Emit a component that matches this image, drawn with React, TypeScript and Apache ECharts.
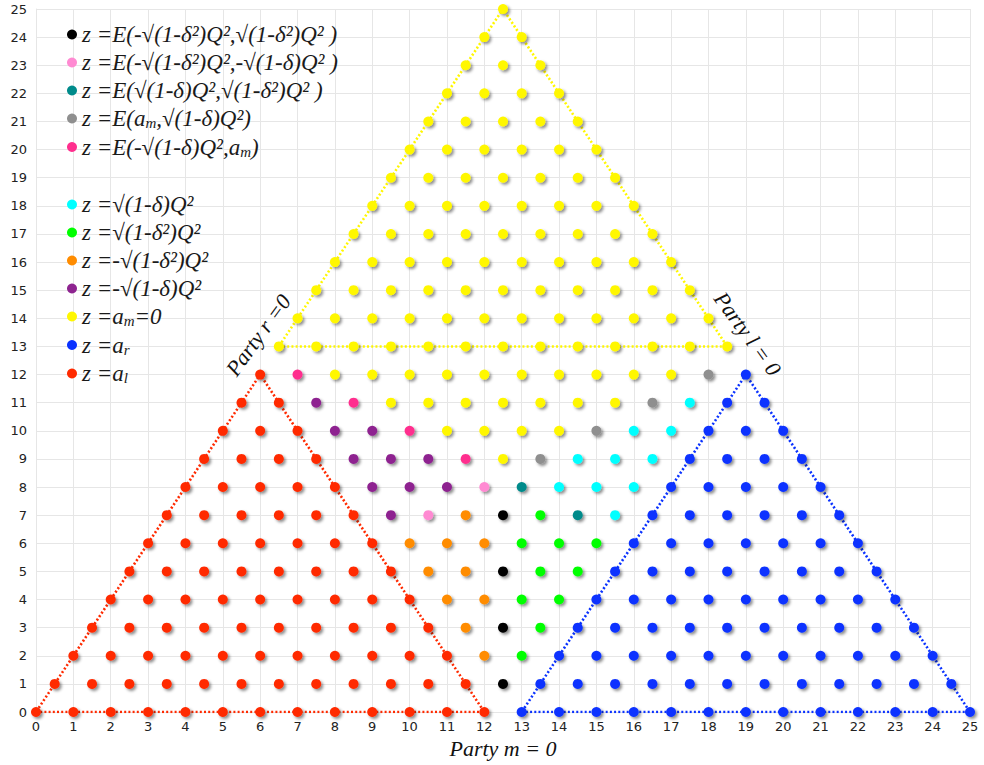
import React, { useEffect, useRef } from 'react';
import * as echarts from 'echarts';

// Lattice of outcomes: row index = y (party m), character j in row => x = y/2 + j.
// Codes: R red (a_l), B blue (a_r), Y yellow (a_m=0), K black, P light pink, T teal,
// G gray, M deep pink, C cyan, L green, O orange, U purple.
const LATTICE_ROWS: string[] = [
  'RRRRRRRRRRRRRBBBBBBBBBBBBB',
  'RRRRRRRRRRRRKBBBBBBBBBBBB',
  'RRRRRRRRRRROLBBBBBBBBBBB',
  'RRRRRRRRRROKLBBBBBBBBBB',
  'RRRRRRRRROOLLBBBBBBBBB',
  'RRRRRRRROOKLLBBBBBBBB',
  'RRRRRRROOOLLLBBBBBBB',
  'RRRRRRUPOKLTCBBBBBB',
  'RRRRRUUUPTCCCBBBBB',
  'RRRRUUUMYGCCCBBBB',
  'RRRUUMYYYYGCCBBB',
  'RRUMYYYYYYYGCBB',
  'RMYYYYYYYYYYGB',
  'YYYYYYYYYYYYY',
  'YYYYYYYYYYYY',
  'YYYYYYYYYYY',
  'YYYYYYYYYY',
  'YYYYYYYYY',
  'YYYYYYYY',
  'YYYYYYY',
  'YYYYYY',
  'YYYYY',
  'YYYY',
  'YYY',
  'YY',
  'Y',
];

const SERIES_KEYS: string[] = ['K', 'P', 'T', 'G', 'M', 'C', 'L', 'O', 'U', 'Y', 'B', 'R'];
const LEGEND_TOP_KEYS: string[] = ['K', 'P', 'T', 'G', 'M'];
const LEGEND_BOTTOM_KEYS: string[] = ['C', 'L', 'O', 'U', 'Y', 'B', 'R'];

const COLORS: Record<string, string> = {
  K: '#000000',
  P: '#ff8ad2',
  T: '#008b8b',
  G: '#8f8f8f',
  M: '#ff2f8e',
  C: '#00ffff',
  L: '#00ff00',
  O: '#ff8c00',
  U: '#8e2490',
  Y: '#fff700',
  B: '#0a32ff',
  R: '#ff2a00',
};

const LEGEND_LABELS: Record<string, string> = {
  K: '{t|z =E(-√(1-δ²)Q²,√(1-δ²)Q² )}',
  P: '{t|z =E(-√(1-δ²)Q²,-√(1-δ)Q² )}',
  T: '{t|z =E(√(1-δ)Q²,√(1-δ²)Q² )}',
  G: '{t|z =E(a}{s|m}{t|,√(1-δ)Q²)}',
  M: '{t|z =E(-√(1-δ)Q²,a}{s|m}{t|)}',
  C: '{t|z =√(1-δ)Q²}',
  L: '{t|z =√(1-δ²)Q²}',
  O: '{t|z =-√(1-δ²)Q²}',
  U: '{t|z =-√(1-δ)Q²}',
  Y: '{t|z =a}{s|m}{t|=0}',
  B: '{t|z =a}{s|r}',
  R: '{t|z =a}{s|l}',
};

const RED_EDGE: number[][] = [[0, 0], [12, 0], [6, 12], [0, 0]];
const BLUE_EDGE: number[][] = [[13, 0], [25, 0], [19, 12], [13, 0]];
const YELLOW_EDGE: number[][] = [[6.5, 13], [18.5, 13], [12.5, 25], [6.5, 13]];

const AXIS_MIN = 0;
const AXIS_MAX = 25;
const AXIS_STEP = 1;

const LABEL_R_TEXT = 'Party r =0';
const LABEL_L_TEXT = 'Party l = 0';
const LABEL_R_POS = [5.95, 13.4];
const LABEL_L_POS = [19.05, 13.45];
const X_AXIS_NAME = 'Party m = 0';

const SERIF = '"Liberation Serif", "DejaVu Serif", serif';

function buildSeriesData(): Record<string, number[][]> {
  const out: Record<string, number[][]> = {};
  SERIES_KEYS.forEach((k) => (out[k] = []));
  LATTICE_ROWS.forEach((row, y) => {
    for (let j = 0; j < row.length; j++) {
      out[row[j]].push([y / 2 + j, y]);
    }
  });
  return out;
}

export default function App() {
  const ref = useRef<HTMLDivElement>(null);

  useEffect(() => {
    if (!ref.current) return;
    const chart = echarts.init(ref.current, undefined, { renderer: 'svg' });
    const data = buildSeriesData();

    const edgeSeries = [
      { data: RED_EDGE, color: COLORS.R },
      { data: BLUE_EDGE, color: COLORS.B },
      { data: YELLOW_EDGE, color: COLORS.Y },
    ].map((e, i) => ({
      type: 'line',
      name: 'edge' + i,
      data: e.data,
      symbol: 'none',
      silent: true,
      z: 1,
      lineStyle: {
        color: e.color,
        width: 2.6,
        type: [2, 2.2],
        cap: 'butt',
      },
    }));

    const scatterSeries = SERIES_KEYS.map((k) => ({
      type: 'scatter',
      name: k,
      data: data[k],
      symbol: 'circle',
      symbolSize: 10,
      z: 3,
      itemStyle: {
        color: COLORS[k],
        opacity: 1,
        shadowColor: 'rgba(0,0,0,0.45)',
        shadowBlur: 3,
        shadowOffsetX: 2,
        shadowOffsetY: 2,
      },
    }));

    const legendText = {
      color: '#1a1a1a',
      fontFamily: SERIF,
      fontStyle: 'italic',
      fontSize: 23,
      rich: {
        t: {
          color: '#1a1a1a',
          fontFamily: SERIF,
          fontStyle: 'italic',
          fontSize: 23,
          lineHeight: 24,
        },
        s: {
          color: '#1a1a1a',
          fontFamily: SERIF,
          fontStyle: 'italic',
          fontSize: 15,
          lineHeight: 14,
          verticalAlign: 'bottom',
        },
      },
    };

    const legendBase = {
      orient: 'vertical',
      left: 67,
      icon: 'circle',
      itemWidth: 10,
      itemHeight: 10,
      itemGap: 5,
      padding: 0,
      selectedMode: false,
      formatter: (name: string) => LEGEND_LABELS[name] || name,
      textStyle: legendText,
    };

    const axisCommon = {
      type: 'value',
      min: AXIS_MIN,
      max: AXIS_MAX,
      interval: AXIS_STEP,
      axisLine: { show: true, lineStyle: { color: '#e6e6e6', width: 1 } },
      axisTick: { show: false },
      splitLine: { show: true, lineStyle: { color: '#e6e6e6', width: 1 } },
      axisLabel: {
        color: '#222',
        fontSize: 13,
        fontFamily: '"DejaVu Sans", sans-serif',
      },
    };

    chart.setOption({
      animation: false,
      backgroundColor: '#ffffff',
      grid: { left: 36, right: 14, top: 9, bottom: 53, containLabel: false },
      xAxis: {
        ...axisCommon,
        axisLabel: { ...axisCommon.axisLabel, margin: 8 },
        name: X_AXIS_NAME,
        nameLocation: 'middle',
        nameGap: 24,
        nameTextStyle: {
          fontFamily: SERIF,
          fontStyle: 'italic',
          fontSize: 22,
          color: '#111',
          verticalAlign: 'top',
        },
      },
      yAxis: {
        ...axisCommon,
        axisLabel: { ...axisCommon.axisLabel, margin: 9 },
      },
      legend: [
        { ...legendBase, top: 23, data: LEGEND_TOP_KEYS },
        { ...legendBase, top: 193, data: LEGEND_BOTTOM_KEYS },
      ],
      series: [...edgeSeries, ...scatterSeries],
    });

    const pR = chart.convertToPixel({ gridIndex: 0 }, LABEL_R_POS) as number[];
    const pL = chart.convertToPixel({ gridIndex: 0 }, LABEL_L_POS) as number[];
    const labelStyle = {
      fontFamily: SERIF,
      fontStyle: 'italic',
      fontSize: 22,
      fill: '#111',
      align: 'center',
      verticalAlign: 'middle',
    };
    chart.setOption({
      graphic: [
        {
          type: 'text',
          x: pR[0],
          y: pR[1],
          rotation: (54 * Math.PI) / 180,
          z: 10,
          style: { ...labelStyle, text: LABEL_R_TEXT },
        },
        {
          type: 'text',
          x: pL[0],
          y: pL[1],
          rotation: (-54 * Math.PI) / 180,
          z: 10,
          style: { ...labelStyle, text: LABEL_L_TEXT },
        },
      ],
    });

    return () => chart.dispose();
  }, []);

  return (
    <div
      ref={ref}
      style={{ position: 'absolute', left: 0, top: 0, width: 984, height: 765 }}
    />
  );
}
